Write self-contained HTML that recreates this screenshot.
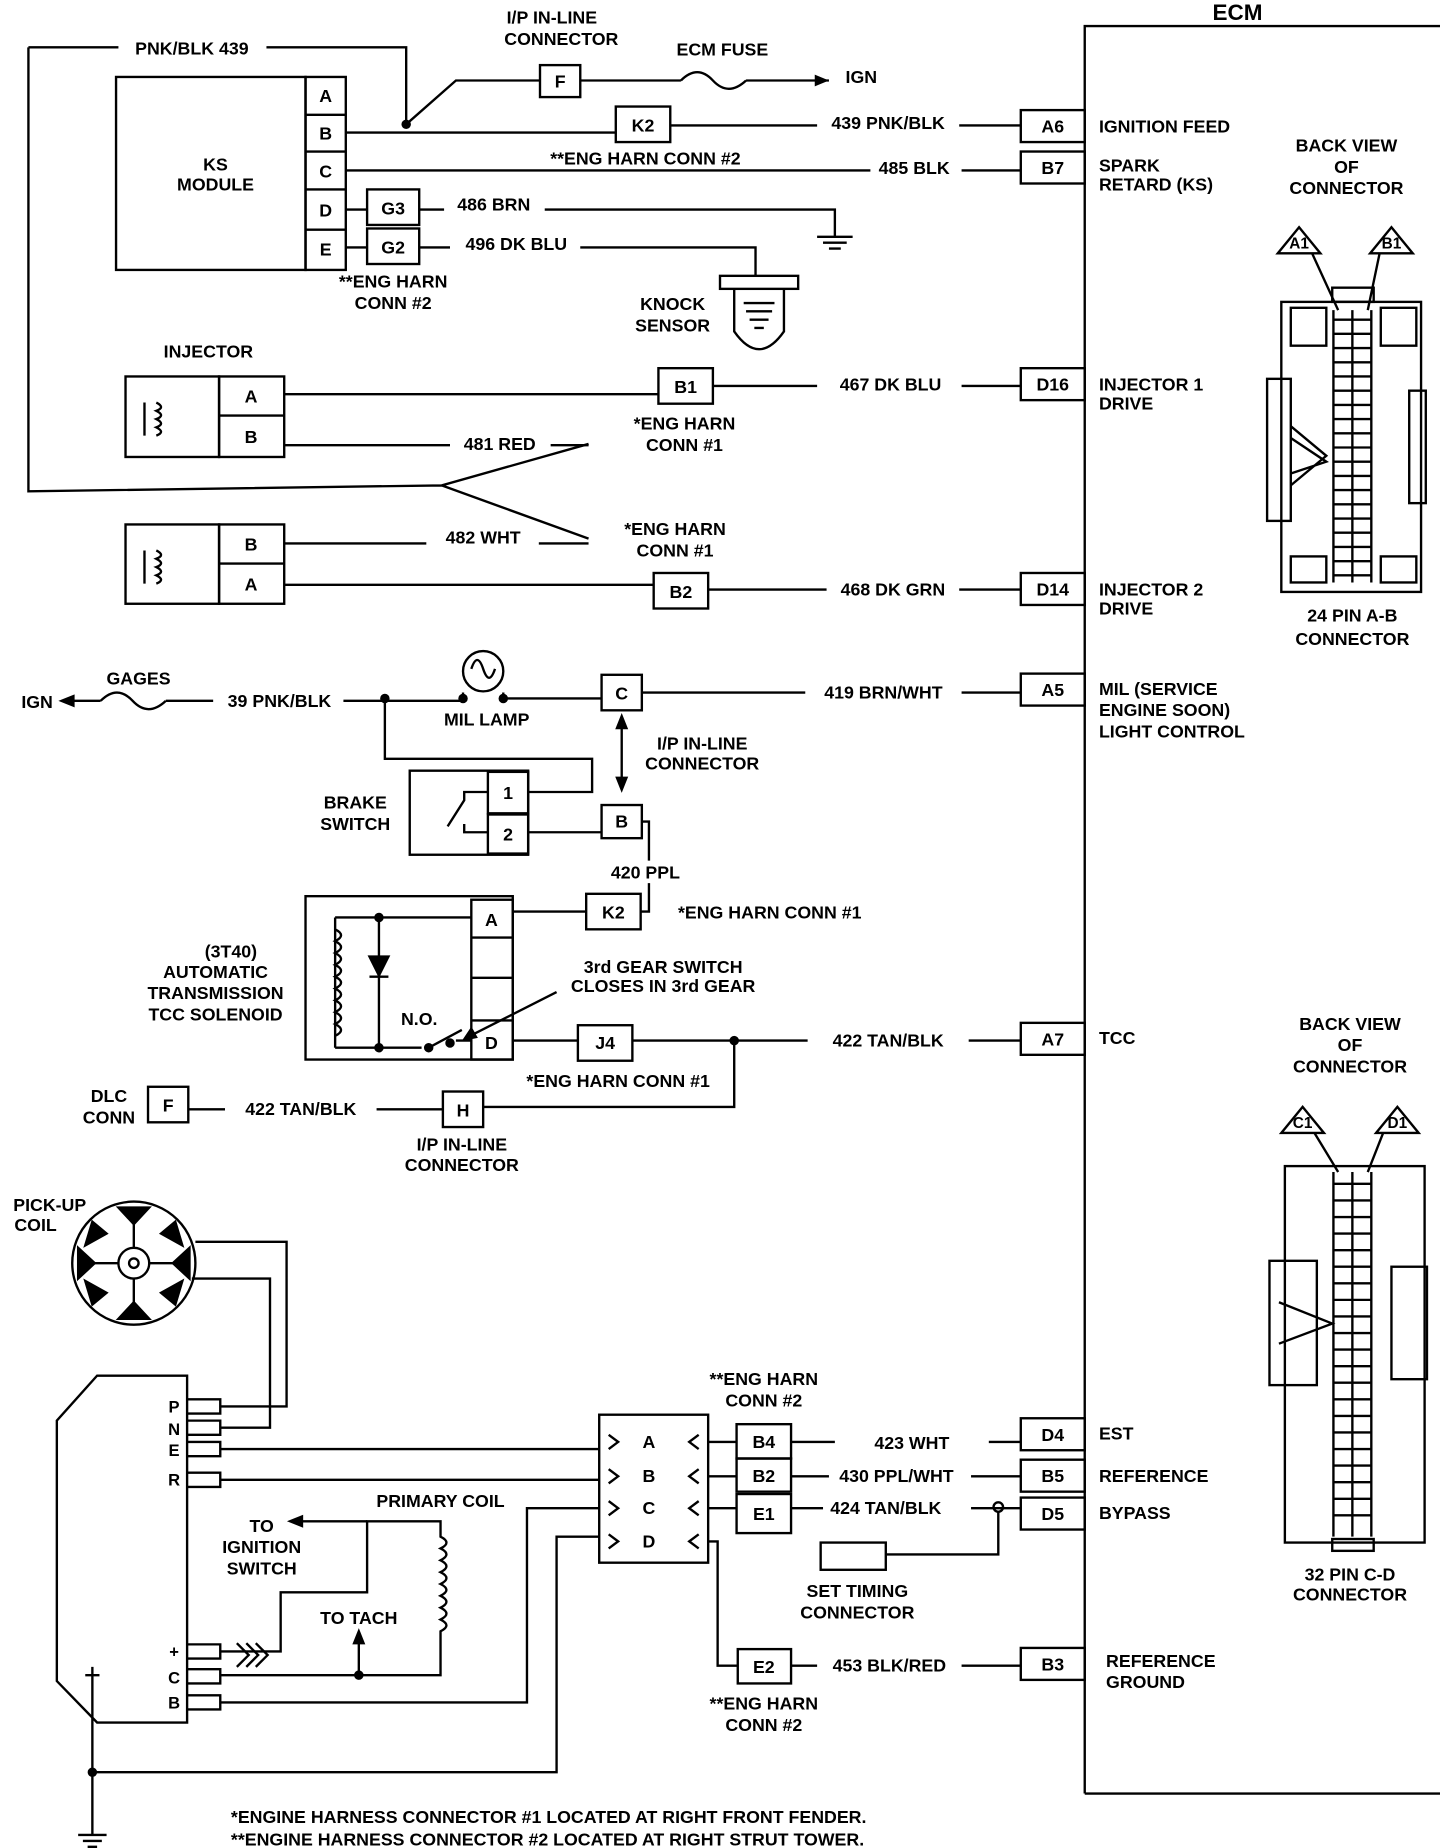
<!DOCTYPE html>
<html><head><meta charset="utf-8"><style>
html,body{margin:0;padding:0;background:#fff;}
svg{display:block;}
text{font-family:"Liberation Sans",sans-serif;font-weight:bold;font-size:15px;fill:#000;}
.m{text-anchor:middle;}
</style></head><body>
<svg width="1440" height="1848" viewBox="0 0 1216 1561" xmlns="http://www.w3.org/2000/svg" preserveAspectRatio="none">
<g fill="none" stroke="#000" stroke-width="2">
<path d="M916 1515 V22 H1216"/>
<path d="M916 1515 H1216"/>
<rect x="862" y="93" width="54" height="27"/><rect x="862" y="128" width="54" height="27"/>
<rect x="862" y="311" width="54" height="27"/><rect x="862" y="484" width="54" height="27"/>
<rect x="862" y="569" width="54" height="27"/><rect x="862" y="864" width="54" height="27"/>
<rect x="862" y="1198" width="54" height="27"/><rect x="862" y="1233" width="54" height="27"/>
<rect x="862" y="1265" width="54" height="27"/><rect x="862" y="1392" width="54" height="27"/>
<rect x="98" y="65" width="160" height="163"/>
<rect x="258" y="65" width="34" height="163"/>
<path d="M258 97H292M258 128H292M258 160H292M258 194H292"/>
<path d="M24 40H100M225 40H343V105"/>
<path d="M24 40V415L373 410L497 375M373 410L497 455"/>
<path d="M343 105L385 68H456"/>
<rect x="456" y="55" width="34" height="27"/>
<path d="M490 68H575M630 68H700"/>
<path d="M575 68q14 -14 27 0t28 0"/>
<circle cx="343" cy="105" r="3" fill="#000"/>
<path d="M292 112H520"/><rect x="520" y="90" width="46" height="30"/><path d="M566 106H690M810 106H862"/>
<path d="M292 144H735M812 144H862"/>
<path d="M292 177H310"/><rect x="310" y="160" width="44" height="30"/><path d="M354 177H375M460 177H705V200"/>
<path d="M690 200H720M695 205H715M700 210H710"/>
<path d="M292 209H310"/><rect x="310" y="193" width="44" height="30"/><path d="M354 209H380M490 209H638V233"/>
<rect x="608" y="233" width="66" height="11"/>
<path d="M620 244V280Q641 310 662 280V244"/>
<path d="M628 256H654M630 263H652M633 270H649M637 277H645"/>
<rect x="106" y="318" width="79" height="68"/><rect x="185" y="318" width="55" height="68"/><path d="M185 351H240"/>
<path d="M122 340V368M132 340q8 4 0 7q8 4 0 7q8 4 0 7q8 4 0 7"/>
<path d="M240 333H556"/><rect x="556" y="311" width="46" height="30"/><path d="M602 326H690M812 326H862"/>
<path d="M240 376H380M465 376H497"/>
<rect x="106" y="443" width="79" height="67"/><rect x="185" y="443" width="55" height="67"/><path d="M185 476H240"/>
<path d="M122 465V493M132 465q8 4 0 7q8 4 0 7q8 4 0 7q8 4 0 7"/>
<path d="M240 459H360M455 459H497"/>
<path d="M240 494H552"/><rect x="552" y="484" width="46" height="30"/><path d="M598 498H698M810 498H862"/>
<path d="M52 592H85M140 592H180M290 592H390"/>
<path d="M52 592l10 -4v8z" fill="#000"/>
<path d="M85 592q14 -14 27 0t28 0"/>
<circle cx="325" cy="590" r="3" fill="#000"/>
<circle cx="408" cy="567" r="17"/>
<path d="M398 565q5 -15 10 0q5 15 10 0M391 585V590M425 585V590"/>
<circle cx="391" cy="590" r="3" fill="#000"/><circle cx="425" cy="590" r="3" fill="#000"/>
<path d="M425 590H508"/><rect x="508" y="570" width="34" height="30"/><path d="M542 585H680M812 585H862"/>
<path d="M325 590V641H500V669H446"/>
<rect x="346" y="651" width="100" height="71"/><rect x="412" y="652" width="34" height="35"/><rect x="412" y="688" width="34" height="33"/>
<path d="M412 669H392V676L378 698M412 703H392V696"/>
<path d="M446 703H508"/><rect x="508" y="680" width="34" height="28"/>
<path d="M525 610V662"/><path d="M525 605l-4 10h8zM525 667l-4 -10h8z" fill="#000"/>
<path d="M542 694H548V727M548 746V770H541"/>
<rect x="258" y="757" width="175" height="138"/>
<rect x="398" y="760" width="35" height="135"/><path d="M398 792H433M398 826H433M398 862H433"/>
<path d="M283 775V885M283 775H398M283 885H356M385 879H398M283 785q10 5 0 10q10 5 0 10q10 5 0 10q10 5 0 10q10 5 0 10q10 5 0 10q10 5 0 10q10 5 0 10q10 5 0 10"/>
<path d="M320 775V885M312 825H328"/>
<path d="M312 808h16l-8 16z" fill="#000"/>
<circle cx="320" cy="775" r="3" fill="#000"/><circle cx="320" cy="885" r="3" fill="#000"/>
<circle cx="362" cy="885" r="3" fill="#000"/><circle cx="380" cy="881" r="3" fill="#000"/>
<path d="M362 885L390 870"/>
<path d="M470 838L395 876"/><path d="M392 878l6 -9l4 7z" fill="#000"/>
<path d="M433 770H495"/><rect x="495" y="755" width="46" height="30"/>
<path d="M433 879H488"/><rect x="488" y="866" width="46" height="30"/><path d="M534 879H682M818 879H862"/>
<circle cx="620" cy="879" r="3" fill="#000"/>
<path d="M620 879V935H408"/><rect x="374" y="922" width="34" height="30"/>
<rect x="125" y="918" width="34" height="30"/><path d="M159 937H190M318 937H374"/>
<circle cx="113" cy="1067" r="52"/><circle cx="113" cy="1067" r="13"/><circle cx="113" cy="1067" r="4"/>
<path d="M113 1054V1030M113 1080V1104M100 1067H76M126 1067H150"/>
<path d="M100 1020l26 0l-13 14z M100 1114l26 0l-13 -14z M66 1054v26l14 -13z M160 1054v26l-14 -13z M78 1032l-6 20l18 -10z M148 1032l6 20l-18 -10z M78 1102l-6 -20l18 10z M148 1102l6 -20l-18 10z" fill="#000"/>
<path d="M165 1049H242V1188H186M162 1080H228V1206H186"/>
<path d="M82 1162H158V1455H82L48 1420V1200Z"/>
<path d="M158 1182h28v12h-28M158 1200h28v12h-28M158 1218h28v12h-28M158 1244h28v12h-28M158 1389h28v12h-28M158 1410h28v12h-28M158 1432h28v12h-28"/>
<path d="M186 1224H506M186 1250H506"/>
<rect x="506" y="1195" width="92" height="125"/>
<path d="M514 1212l8 6l-8 6M514 1241l8 6l-8 6M514 1268l8 6l-8 6M514 1296l8 6l-8 6M590 1212l-8 6l8 6M590 1241l-8 6l8 6M590 1268l-8 6l8 6M590 1296l-8 6l8 6"/>
<path d="M598 1218H622M598 1247H622M598 1274H622M598 1302H606V1407H623"/>
<rect x="622" y="1203" width="46" height="29"/><rect x="622" y="1232" width="46" height="28"/><rect x="622" y="1262" width="46" height="33"/>
<path d="M668 1218H705M835 1218H862M668 1247H700M820 1247H862M668 1274H695M820 1274H862"/>
<circle cx="843" cy="1273" r="4"/>
<path d="M843 1277V1313H748"/><rect x="693" y="1303" width="55" height="23"/>
<rect x="623" y="1393" width="45" height="29"/><path d="M668 1407H690M812 1407H862"/>
<path d="M186 1438H445V1274H506M506 1298H470V1497H78"/>
<path d="M78 1415V1550M66 1550H90M70 1555H86M74 1560H82"/><circle cx="78" cy="1497" r="3" fill="#000"/>
<path d="M72 1415H84M78 1408v7"/>
<path d="M186 1395H237V1345H310V1285H372V1298q10 5 0 10q10 5 0 10q10 5 0 10q10 5 0 10q10 5 0 10q10 5 0 10q10 5 0 10q10 5 0 10V1415H186"/>
<path d="M310 1285H250"/><path d="M245 1285l10 -4v8z" fill="#000"/>
<path d="M303 1415V1385"/><path d="M303 1378l-4 10h8z" fill="#000"/>
<circle cx="303" cy="1415" r="3" fill="#000"/>
<path d="M200 1388l10 10l-10 10M208 1388l10 10l-10 10M216 1388l10 10l-10 10"/>
<path d="M1097 192l-18 22h36z M1175 192l-18 22h36z"/>
<path d="M1108 214L1130 262M1165 214L1155 262"/>
<rect x="1082" y="255" width="118" height="245"/>
<rect x="1090" y="260" width="30" height="32"/><rect x="1166" y="260" width="30" height="32"/>
<rect x="1090" y="470" width="30" height="22"/><rect x="1166" y="470" width="30" height="22"/>
<rect x="1070" y="320" width="20" height="120"/><rect x="1190" y="330" width="14" height="95"/>
<path d="M1090 360L1120 385L1090 410M1090 370L1120 390L1090 400"/>
<rect x="1125" y="243" width="35" height="12"/>
<path d="M1126 262V492M1142 262V492M1158 262V492"/>
<path d="M1126 270H1158M1126 282H1158M1126 294H1158M1126 306H1158M1126 318H1158M1126 330H1158M1126 342H1158M1126 354H1158M1126 366H1158M1126 378H1158M1126 390H1158M1126 402H1158M1126 414H1158M1126 426H1158M1126 438H1158M1126 450H1158M1126 462H1158M1126 474H1158M1126 486H1158"/>
<path d="M1100 935l-18 22h36z M1180 935l-18 22h36z"/>
<path d="M1110 957L1130 990M1168 957L1155 990"/>
<rect x="1085" y="985" width="118" height="318"/>
<rect x="1072" y="1065" width="40" height="105"/><rect x="1175" y="1070" width="30" height="95"/>
<path d="M1080 1100L1125 1118L1080 1135"/>
<rect x="1125" y="1300" width="35" height="10"/>
<path d="M1126 990V1298M1142 990V1298M1158 990V1298"/>
<path d="M1126 1000H1158M1126 1014H1158M1126 1028H1158M1126 1042H1158M1126 1056H1158M1126 1070H1158M1126 1084H1158M1126 1098H1158M1126 1112H1158M1126 1126H1158M1126 1140H1158M1126 1154H1158M1126 1168H1158M1126 1182H1158M1126 1196H1158M1126 1210H1158M1126 1224H1158M1126 1238H1158M1126 1252H1158M1126 1266H1158M1126 1280H1158"/>
</g>
<path d="M700 68l-12 -5v10z"/>
<g>
<text x="1045" y="17" class="m" style="font-size:19px">ECM</text>
<text x="162" y="46" class="m">PNK/BLK 439</text>
<text x="466" y="20" class="m">I/P IN-LINE</text><text x="474" y="38" class="m">CONNECTOR</text>
<text x="610" y="47" class="m">ECM FUSE</text><text x="714" y="70">IGN</text>
<text x="275" y="86" class="m">A</text><text x="275" y="118" class="m">B</text><text x="275" y="150" class="m">C</text><text x="275" y="183" class="m">D</text><text x="275" y="216" class="m">E</text>
<text x="182" y="144" class="m">KS</text><text x="182" y="161" class="m">MODULE</text>
<text x="473" y="74" class="m">F</text>
<text x="543" y="111" class="m">K2</text><text x="750" y="109" class="m">439 PNK/BLK</text>
<text x="545" y="139" class="m">**ENG HARN CONN #2</text><text x="772" y="147" class="m">485 BLK</text>
<text x="332" y="181" class="m">G3</text><text x="417" y="178" class="m">486 BRN</text>
<text x="332" y="214" class="m">G2</text><text x="436" y="211" class="m">496 DK BLU</text>
<text x="332" y="243" class="m">**ENG HARN</text><text x="332" y="261" class="m">CONN #2</text>
<text x="568" y="262" class="m">KNOCK</text><text x="568" y="280" class="m">SENSOR</text>
<text x="928" y="112">IGNITION FEED</text>
<text x="889" y="112" class="m">A6</text><text x="889" y="147" class="m">B7</text>
<text x="928" y="145">SPARK</text><text x="928" y="161">RETARD (KS)</text>
<text x="1137" y="128" class="m">BACK VIEW</text><text x="1137" y="146" class="m">OF</text><text x="1137" y="164" class="m">CONNECTOR</text>
<text x="1097" y="210" class="m" style="font-size:13px">A1</text><text x="1175" y="210" class="m" style="font-size:13px">B1</text>
<text x="176" y="302" class="m">INJECTOR</text>
<text x="212" y="340" class="m">A</text><text x="212" y="374" class="m">B</text>
<text x="579" y="332" class="m">B1</text><text x="752" y="330" class="m">467 DK BLU</text>
<text x="889" y="330" class="m">D16</text><text x="928" y="330">INJECTOR 1</text><text x="928" y="346">DRIVE</text>
<text x="578" y="363" class="m">*ENG HARN</text><text x="578" y="381" class="m">CONN #1</text>
<text x="422" y="380" class="m">481 RED</text>
<text x="570" y="452" class="m">*ENG HARN</text><text x="570" y="470" class="m">CONN #1</text>
<text x="212" y="465" class="m">B</text><text x="212" y="499" class="m">A</text>
<text x="408" y="459" class="m">482 WHT</text>
<text x="575" y="505" class="m">B2</text><text x="754" y="503" class="m">468 DK GRN</text>
<text x="889" y="503" class="m">D14</text><text x="928" y="503">INJECTOR 2</text><text x="928" y="519">DRIVE</text>
<text x="1142" y="525" class="m">24 PIN  A-B</text><text x="1142" y="545" class="m">CONNECTOR</text>
<text x="18" y="598">IGN</text><text x="117" y="578" class="m">GAGES</text><text x="236" y="597" class="m">39 PNK/BLK</text>
<text x="411" y="613" class="m">MIL LAMP</text>
<text x="525" y="591" class="m">C</text><text x="746" y="590" class="m">419 BRN/WHT</text>
<text x="889" y="588" class="m">A5</text>
<text x="928" y="587">MIL (SERVICE</text><text x="928" y="605">ENGINE SOON)</text><text x="928" y="623">LIGHT CONTROL</text>
<text x="593" y="633" class="m">I/P IN-LINE</text><text x="593" y="650" class="m">CONNECTOR</text>
<text x="300" y="683" class="m">BRAKE</text><text x="300" y="701" class="m">SWITCH</text>
<text x="429" y="675" class="m">1</text><text x="429" y="710" class="m">2</text>
<text x="525" y="699" class="m">B</text>
<text x="545" y="742" class="m">420 PPL</text>
<text x="415" y="782" class="m">A</text><text x="518" y="776" class="m">K2</text>
<text x="650" y="776" class="m">*ENG HARN CONN #1</text>
<text x="195" y="809" class="m">(3T40)</text><text x="182" y="826" class="m">AUTOMATIC</text><text x="182" y="844" class="m">TRANSMISSION</text><text x="182" y="862" class="m">TCC SOLENOID</text>
<text x="560" y="822" class="m">3rd GEAR SWITCH</text><text x="560" y="838" class="m">CLOSES IN 3rd GEAR</text>
<text x="354" y="866" class="m">N.O.</text>
<text x="415" y="886" class="m">D</text><text x="511" y="886" class="m">J4</text>
<text x="750" y="884" class="m">422 TAN/BLK</text><text x="889" y="883" class="m">A7</text><text x="928" y="882">TCC</text>
<text x="522" y="918" class="m">*ENG HARN CONN #1</text>
<text x="92" y="931" class="m">DLC</text><text x="92" y="949" class="m">CONN</text>
<text x="142" y="939" class="m">F</text><text x="254" y="942" class="m">422 TAN/BLK</text>
<text x="391" y="943" class="m">H</text>
<text x="390" y="972" class="m">I/P IN-LINE</text><text x="390" y="989" class="m">CONNECTOR</text>
<text x="1140" y="870" class="m">BACK VIEW</text><text x="1140" y="888" class="m">OF</text><text x="1140" y="906" class="m">CONNECTOR</text>
<text x="1100" y="953" class="m" style="font-size:13px">C1</text><text x="1180" y="953" class="m" style="font-size:13px">D1</text>
<text x="42" y="1023" class="m">PICK-UP</text><text x="30" y="1040" class="m">COIL</text>
<text x="645" y="1170" class="m">**ENG HARN</text><text x="645" y="1188" class="m">CONN #2</text>
<text x="147" y="1193" class="m" style="font-size:14px">P</text><text x="147" y="1212" class="m" style="font-size:14px">N</text><text x="147" y="1230" class="m" style="font-size:14px">E</text><text x="147" y="1255" class="m" style="font-size:14px">R</text>
<text x="147" y="1400" class="m" style="font-size:14px">+</text><text x="147" y="1422" class="m" style="font-size:14px">C</text><text x="147" y="1443" class="m" style="font-size:14px">B</text>
<text x="548" y="1223" class="m">A</text><text x="548" y="1252" class="m">B</text><text x="548" y="1279" class="m">C</text><text x="548" y="1307" class="m">D</text>
<text x="645" y="1223" class="m">B4</text><text x="645" y="1252" class="m">B2</text><text x="645" y="1284" class="m">E1</text>
<text x="770" y="1224" class="m">423 WHT</text><text x="757" y="1252" class="m">430 PPL/WHT</text><text x="748" y="1279" class="m">424 TAN/BLK</text>
<text x="889" y="1217" class="m">D4</text><text x="889" y="1252" class="m">B5</text><text x="889" y="1284" class="m">D5</text>
<text x="928" y="1216">EST</text><text x="928" y="1252">REFERENCE</text><text x="928" y="1283">BYPASS</text>
<text x="372" y="1273" class="m">PRIMARY COIL</text>
<text x="221" y="1294" class="m">TO</text><text x="221" y="1312" class="m">IGNITION</text><text x="221" y="1330" class="m">SWITCH</text>
<text x="303" y="1372" class="m">TO TACH</text>
<text x="724" y="1349" class="m">SET TIMING</text><text x="724" y="1367" class="m">CONNECTOR</text>
<text x="1140" y="1335" class="m">32 PIN C-D</text><text x="1140" y="1352" class="m">CONNECTOR</text>
<text x="645" y="1413" class="m">E2</text><text x="751" y="1412" class="m">453 BLK/RED</text>
<text x="889" y="1411" class="m">B3</text><text x="934" y="1408">REFERENCE</text><text x="934" y="1426">GROUND</text>
<text x="645" y="1444" class="m">**ENG HARN</text><text x="645" y="1462" class="m">CONN #2</text>
<text x="195" y="1540">*ENGINE HARNESS CONNECTOR  #1 LOCATED AT RIGHT FRONT FENDER.</text>
<text x="195" y="1559">**ENGINE HARNESS CONNECTOR  #2 LOCATED AT RIGHT STRUT TOWER.</text>
</g>
</svg>
</body></html>
